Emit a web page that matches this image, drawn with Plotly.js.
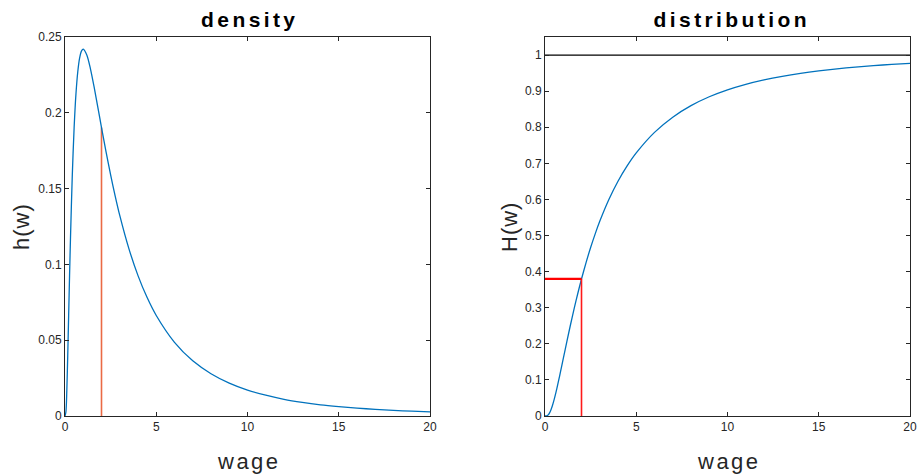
<!DOCTYPE html>
<html>
<head>
<meta charset="utf-8">
<script src="https://cdn.plot.ly/plotly-3.0.1.min.js"></script>
<style>
  html, body { margin: 0; padding: 0; background: #fff; }
  #chart { width: 920px; height: 475px; }
  .annotation[data-index="0"] text, .annotation[data-index="1"] text { letter-spacing: 3.4px; }
  .annotation[data-index="2"] text, .annotation[data-index="3"] text { letter-spacing: 2.5px; }
  .annotation[data-index="4"] text, .annotation[data-index="5"] text { letter-spacing: 1px; }
</style>
</head>
<body>
<div id="chart"></div>
<script>
// wage grid and values
const wage = [0,0.05,0.1,0.15,0.2,0.25,0.3,0.4,0.5,0.6,0.7,0.8,0.9,1.0,1.2,1.4,1.6,1.8,2.0,2.25,2.5,2.75,3,3.5,4,4.5,5,6,7,8,9,10,11,12,13,14,15,16,17,18,19,20];
const density = [0,0.0027,0.0171,0.0400,0.0663,0.0926,0.1172,0.1590,0.1903,0.2124,0.2271,0.2360,0.2407,0.2420,0.2380,0.2287,0.2167,0.2036,0.1903,0.1742,0.1590,0.1451,0.1323,0.1104,0.0926,0.0781,0.0663,0.0486,0.0364,0.0279,0.0217,0.0171,0.0137,0.0110,0.0090,0.0074,0.0062,0.0052,0.0044,0.0037,0.0032,0.0027];
const distribution = [0,0.00003,0.0005,0.0019,0.0045,0.0085,0.0138,0.0277,0.0452,0.0654,0.0874,0.1107,0.1345,0.1587,0.2068,0.2535,0.2981,0.3401,0.3795,0.4250,0.4667,0.5046,0.5393,0.5998,0.6504,0.6929,0.7289,0.7858,0.8279,0.8598,0.8844,0.9036,0.9189,0.9312,0.9412,0.9494,0.9562,0.9619,0.9666,0.9707,0.9741,0.9770];

// marked (reservation) wage and its values
const markWage = 2;
const markDensity = 0.1903;
const markCdf = 0.38;
const upperBound = 1;
const wageRange = [0, 20];

const xTicks = [0, 5, 10, 15, 20];
const yTicksLeft = [0, 0.05, 0.1, 0.15, 0.2, 0.25];
const yTicksRight = [0, 0.1, 0.2, 0.3, 0.4, 0.5, 0.6, 0.7, 0.8, 0.9, 1];

const titles = ["density", "distribution"];
const xLabel = "wage";
const yLabels = ["h(w)", "H(w)"];

const blue = "#0072BD";
const FONT = "Liberation Sans, Arial, Helvetica, sans-serif";

const traces = [
  { x: [markWage, markWage], y: [0, markDensity], xaxis: "x", yaxis: "y", mode: "lines",
    line: { color: "#EA6A45", width: 1.6 }, hoverinfo: "skip" },
  { x: wage, y: density, xaxis: "x", yaxis: "y", mode: "lines",
    line: { color: blue, width: 1.3, shape: "spline", smoothing: 0.8 }, hoverinfo: "skip" },
  { x: [wageRange[0], wageRange[1]], y: [upperBound, upperBound], xaxis: "x2", yaxis: "y2", mode: "lines",
    line: { color: "#000000", width: 1.3 }, hoverinfo: "skip" },
  { x: wage, y: distribution, xaxis: "x2", yaxis: "y2", mode: "lines",
    line: { color: blue, width: 1.3, shape: "spline", smoothing: 0.8 }, hoverinfo: "skip" },
  { x: [markWage, markWage], y: [0, markCdf], xaxis: "x2", yaxis: "y2", mode: "lines",
    line: { color: "#FF1A1A", width: 1.6 }, hoverinfo: "skip" },
  { x: [0, markWage], y: [markCdf, markCdf], xaxis: "x2", yaxis: "y2", mode: "lines",
    line: { color: "#FF0000", width: 2.4 }, hoverinfo: "skip" }
];

const W = 920, H = 475;
const px = v => v / W;
const py = v => (H - v) / H;

const axisCommon = {
  showgrid: false, zeroline: false, showline: true, linecolor: "#262626", linewidth: 1,
  mirror: "ticks", ticks: "inside", ticklen: 4, tickwidth: 1, tickcolor: "#262626",
  tickfont: { family: FONT, size: 12, color: "#262626" }, fixedrange: true
};

const layout = {
  width: W, height: H,
  margin: { l: 0, r: 0, t: 0, b: 0 },
  paper_bgcolor: "#ffffff", plot_bgcolor: "#ffffff",
  showlegend: false,
  xaxis: Object.assign({}, axisCommon, { domain: [px(65), px(430)], range: wageRange, tickvals: xTicks, ticktext: xTicks.map(String), anchor: "y" }),
  yaxis: Object.assign({}, axisCommon, { domain: [py(416), py(37)], range: [0, 0.25], tickvals: yTicksLeft, ticktext: yTicksLeft.map(String), anchor: "x" }),
  xaxis2: Object.assign({}, axisCommon, { domain: [px(545), px(910)], range: wageRange, tickvals: xTicks, ticktext: xTicks.map(String), anchor: "y2" }),
  yaxis2: Object.assign({}, axisCommon, { domain: [py(416), py(37)], range: [0, 1.05], tickvals: yTicksRight, ticktext: yTicksRight.map(String), anchor: "x2" }),
  annotations: [
    { text: "<b>" + titles[0] + "</b>", xref: "paper", yref: "paper", x: px(250), y: py(19), xanchor: "center", yanchor: "middle", showarrow: false, font: { family: FONT, size: 21, color: "#000" } },
    { text: "<b>" + titles[1] + "</b>", xref: "paper", yref: "paper", x: px(731), y: py(19), xanchor: "center", yanchor: "middle", showarrow: false, font: { family: FONT, size: 21, color: "#000" } },
    { text: xLabel, xref: "paper", yref: "paper", x: px(249), y: py(461), xanchor: "center", yanchor: "middle", showarrow: false, font: { family: FONT, size: 22, color: "#262626" } },
    { text: xLabel, xref: "paper", yref: "paper", x: px(729), y: py(461), xanchor: "center", yanchor: "middle", showarrow: false, font: { family: FONT, size: 22, color: "#262626" } },
    { text: yLabels[0], xref: "paper", yref: "paper", x: px(21), y: py(227), xanchor: "center", yanchor: "middle", textangle: -90, showarrow: false, font: { family: FONT, size: 22, color: "#262626" } },
    { text: yLabels[1], xref: "paper", yref: "paper", x: px(509), y: py(227), xanchor: "center", yanchor: "middle", textangle: -90, showarrow: false, font: { family: FONT, size: 22, color: "#262626" } }
  ]
};

Plotly.newPlot("chart", traces, layout, { staticPlot: true, displayModeBar: false });
</script>
</body>
</html>
